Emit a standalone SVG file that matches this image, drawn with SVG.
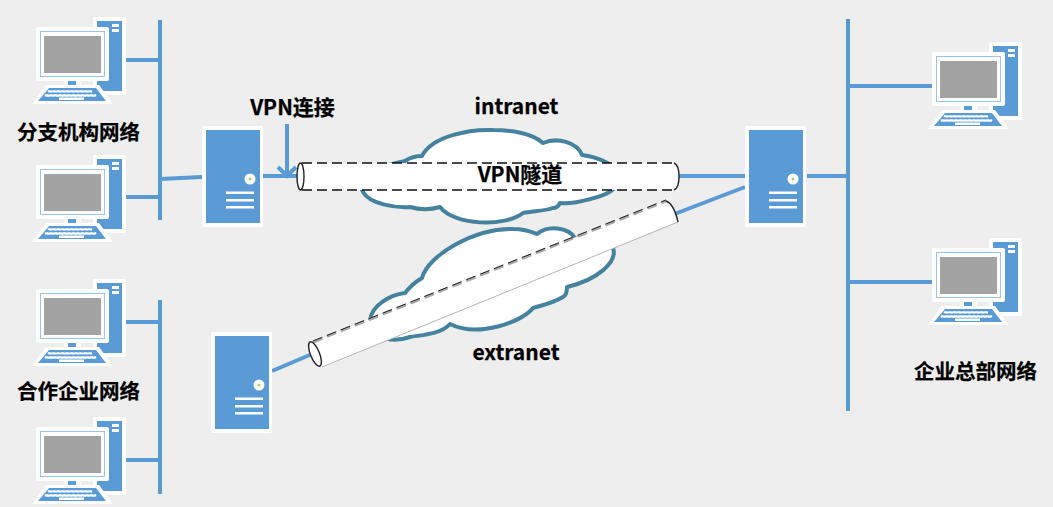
<svg xmlns="http://www.w3.org/2000/svg" width="1053" height="507" viewBox="0 0 1053 507">
<style>
.bg{fill:#eeeeee}
.w{fill:#fff}
.b{fill:#5b9bd5}
.ln{stroke:#5b9bd5;stroke-width:4;fill:none}
.cloud{fill:#fff;stroke:#44829f;stroke-width:4;stroke-linejoin:round}
.dash{stroke:#111;stroke-width:1.6;stroke-dasharray:10 5;fill:none}
.end{stroke:#222;stroke-width:1.4;fill:none}
text{font-family:"Noto Sans CJK SC","Noto Sans",sans-serif;font-weight:700;font-size:20.500px;fill:#000;stroke:#000;stroke-width:.25;text-anchor:middle}
text.en{font-size:21px}
</style>
<defs>
<g id="pc">
<rect class="w" x="93" y="17" width="33" height="78" rx="2"/>
<rect class="b" x="97" y="21" width="25" height="70"/>
<rect class="w" x="112" y="24" width="7" height="3"/>
<rect class="w" x="112" y="29" width="7" height="3"/>
<rect class="w" x="36" y="27" width="73" height="54" rx="2"/>
<rect fill="none" stroke="#9cc3e8" x="40.500" y="31.500" width="64" height="45"/>
<rect fill="#a3a3a3" x="44" y="36" width="57" height="37"/>
<rect class="w" x="64" y="80" width="17" height="9"/>
<rect class="b" x="68" y="81" width="8" height="5"/>
<path class="w" d="M46 85H99L113 104H32Z"/>
<path class="b" d="M49 88H96L106 101H38Z"/>
<g class="w">
<path d="M48 90.500h44v1.800h-44z" stroke="#fff" stroke-dasharray="3 1.500" stroke-width=".5"/>
<path d="M45 94.500h51v2h-51z" stroke="#fff" stroke-dasharray="3 1.500" stroke-width=".5"/>
<rect x="59" y="97.500" width="25" height="2.500"/>
</g>
</g>
<g id="srv">
<rect class="w" x="0" y="0" width="61" height="101" rx="2"/>
<rect class="b" x="4" y="4" width="54" height="93"/>
<circle class="w" cx="48" cy="53" r="5.500"/>
<circle fill="#a5cf7a" cx="48" cy="53" r="1.500"/>
<rect class="w" x="24" y="65.500" width="28" height="2.500"/>
<rect class="w" x="24" y="73" width="28" height="2.500"/>
<rect class="w" x="24" y="80" width="28" height="2.500"/>
</g>
</defs>
<rect class="bg" width="1053" height="507"/>
<g id="connectors">
<path class="ln" d="M160 20V220M126 60H160M126 197H160M160 179L202 177"/>
<path class="ln" d="M160 300V494M126 322H160M126 460H160M272 371L312 354"/>
<path class="ln" d="M848 19V411M848 86H932M848 282H932M807 176H848"/>
<path class="ln" d="M676 176H745M672 215L745 187"/>
<path class="ln" d="M263 176H300M287 124V176M278 167L287 176L296 167"/>
</g>
<g id="cloud-intranet">
<path class="cloud" d="M363 192C352 175 385 165 405 161C411 157 416 156 422 156C432 136 470 129 493 130C510 130 532 133 543 143C557 137 577 142 582 155C596 157 610 162 618 172C622 182 617 187 612 190C608 195 575 205 560 203C558 207 555 208 553 208C545 211 533 211 523 213C505 227 455 226 440 207C430 210 420 210 410 207C395 208 370 204 363 192Z"/>
</g>
<g id="cloud-extranet">
<path class="cloud" d="M370 320C372 305 390 295 405 293C411 285 417 281 422 278C428 255 475 228 513 229C522 229 530 231 537 234C548 225 568 227 575 238C590 243 610 238 613 248C618 262 597 280 567 287C567 293 565 296 563 297C553 303 543 305 533 308C522 322 478 338 450 324C440 335 420 335 410 337C395 342 378 342 370 320Z"/>
</g>
<g id="tunnel-intranet">
<path class="w" d="M300 163H674Q679 163 679 176.500Q679 190 674 190H300Z"/>
<path class="dash" d="M302 163H674M302 190H674"/>
<path class="end" d="M674 163Q679 165 679 176.500Q679 188 674 190"/>
<ellipse class="w" cx="300.500" cy="176.500" rx="3.500" ry="13.500"/>
<ellipse class="end" cx="300.500" cy="176.500" rx="3.500" ry="13.500"/>
</g>
<g id="tunnel-extranet">
<path class="w" d="M313 342L666 201Q672 201 678 222L322 367Z"/>
<path fill="none" stroke="#b5b5b5" stroke-width="1" d="M322 367L678 222"/>
<path d="M313 342L666 201" stroke="#aaa" stroke-width="3" stroke-dasharray="10 5" fill="none"/>
<path d="M313 341L666 200" stroke="#222" stroke-width="1" stroke-dasharray="10 5" fill="none"/>
<path class="end" d="M666 201Q674 204 678 222"/>
<ellipse class="w" cx="315" cy="354" rx="4.500" ry="13" transform="rotate(-22 315 354)"/>
<ellipse class="end" stroke-width="2" cx="315" cy="354" rx="4.500" ry="13" transform="rotate(-22 315 354)"/>
</g>
<g id="pc-branch-1"><use href="#pc"/></g>
<g id="pc-branch-2"><use href="#pc" y="138"/></g>
<g id="pc-partner-1"><use href="#pc" y="262"/></g>
<g id="pc-partner-2"><use href="#pc" y="400"/></g>
<g id="pc-hq-1"><use href="#pc" x="896" y="25"/></g>
<g id="pc-hq-2"><use href="#pc" x="896" y="221"/></g>
<g id="server-branch"><use href="#srv" x="202" y="126"/></g>
<g id="server-partner"><use href="#srv" x="211" y="332"/></g>
<g id="server-hq"><use href="#srv" x="745" y="126"/></g>
<g id="labels">
<text class="en" x="292.500" y="115">VPN连接</text>
<text class="en" x="516.500" y="114">intranet</text>
<text class="en" x="520" y="182">VPN隧道</text>
<text class="en" x="516" y="360">extranet</text>
<text x="78.500" y="140">分支机构网络</text>
<text x="78.500" y="399">合作企业网络</text>
<text x="975.500" y="379">企业总部网络</text>
</g>
</svg>
